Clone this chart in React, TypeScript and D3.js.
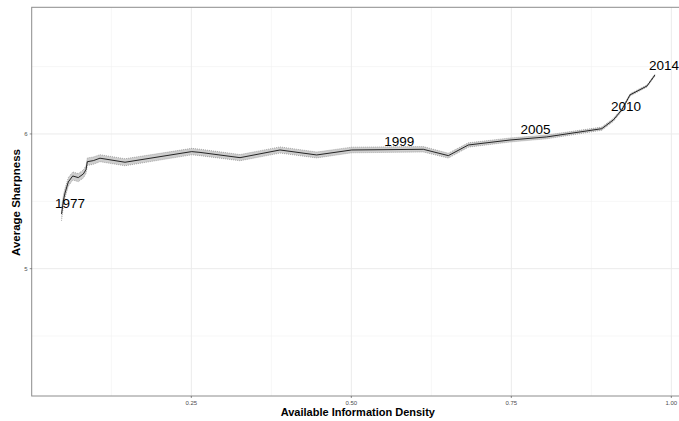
import React from "react";
import * as d3 from "d3";

// Smoothed trajectory of average sharpness against available information density
const density = [
  0.0472, 0.0503, 0.0527, 0.0578, 0.0647, 0.0734, 0.0813, 0.0855, 0.0875, 0.0969,
  0.1073, 0.1464, 0.2506, 0.2636, 0.3261, 0.3886, 0.4459, 0.5006, 0.6125, 0.6516,
  0.6828, 0.748, 0.8053, 0.8913, 0.9094, 0.9225, 0.9355, 0.962, 0.9745,
];
const sharpness = [
  5.406, 5.51, 5.562, 5.644, 5.688, 5.676, 5.703, 5.736, 5.794, 5.802,
  5.82, 5.79, 5.869, 5.863, 5.824, 5.881, 5.844, 5.881, 5.886, 5.839,
  5.918, 5.955, 5.978, 6.039, 6.104, 6.178, 6.29, 6.356, 6.438,
];
// Half-width of the confidence band around the line
const bandHalf = [
  0.05, 0.04, 0.035, 0.032, 0.03, 0.03, 0.03, 0.029, 0.028, 0.027,
  0.026, 0.026, 0.024, 0.024, 0.023, 0.023, 0.022, 0.021, 0.02, 0.018,
  0.016, 0.015, 0.014, 0.012, 0.011, 0.01, 0.009, 0.008, 0.008,
];

// Year annotations along the path
const yearLabels = ["1977", "1999", "2005", "2010", "2014"];
const yearX = [0.0605, 0.5748, 0.7878, 0.9292, 0.9886];
const yearY = [5.489, 5.943, 6.037, 6.203, 6.507];

const xMajor = [0.25, 0.5, 0.75, 1.0];
const xMinor = [0.125, 0.375, 0.625, 0.875];
const yMajor = [5, 6];
const yMinor = [4.5, 5.5, 6.5];

const W = 679;
const H = 421;
const panel = { left: 31.7, top: 7.3, right: 684, bottom: 396 };

const FONT = "'Liberation Sans', Arial, Helvetica, sans-serif";

export default function App() {
  const x = d3.scaleLinear().domain([0.0006, 1.0198]).range([panel.left, panel.right]);
  const y = d3.scaleLinear().domain([4.055, 6.94]).range([panel.bottom, panel.top]);

  const pts = density.map((d, i) => ({ x: d, y: sharpness[i], h: bandHalf[i] }));

  const area = d3
    .area<{ x: number; y: number; h: number }>()
    .x((d) => x(d.x))
    .y0((d) => y(d.y - d.h))
    .y1((d) => y(d.y + d.h));
  const upper = d3
    .line<{ x: number; y: number; h: number }>()
    .x((d) => x(d.x))
    .y((d) => y(d.y + d.h));
  const lower = d3
    .line<{ x: number; y: number; h: number }>()
    .x((d) => x(d.x))
    .y((d) => y(d.y - d.h));
  const mid = d3
    .line<{ x: number; y: number; h: number }>()
    .x((d) => x(d.x))
    .y((d) => y(d.y));

  const panelMidX = (panel.left + panel.right) / 2;

  return (
    <div style={{ position: "fixed", left: 0, top: 0 }}>
      <svg width={W} height={H} style={{ display: "block", background: "#fff" }}>
        <defs>
          <clipPath id="panel-clip">
            <rect x={panel.left} y={panel.top} width={panel.right - panel.left} height={panel.bottom - panel.top} />
          </clipPath>
        </defs>
        <rect x={panel.left} y={panel.top} width={panel.right - panel.left} height={panel.bottom - panel.top} fill="#fff" />
        {/* grid */}
        {xMinor.map((v) => (
          <line key={"xm" + v} x1={x(v)} x2={x(v)} y1={panel.top} y2={panel.bottom} stroke="#f2f2f2" strokeWidth={0.6} />
        ))}
        {yMinor.map((v) => (
          <line key={"ym" + v} x1={panel.left} x2={panel.right} y1={y(v)} y2={y(v)} stroke="#f2f2f2" strokeWidth={0.6} />
        ))}
        {xMajor.map((v) => (
          <line key={"xM" + v} x1={x(v)} x2={x(v)} y1={panel.top} y2={panel.bottom} stroke="#ebebeb" strokeWidth={1} />
        ))}
        {yMajor.map((v) => (
          <line key={"yM" + v} x1={panel.left} x2={panel.right} y1={y(v)} y2={y(v)} stroke="#ebebeb" strokeWidth={1} />
        ))}
        <g clipPath="url(#panel-clip)">
          <path d={area(pts) ?? ""} fill="#bdbdbd" fillOpacity={0.75} />
          <path d={upper(pts) ?? ""} fill="none" stroke="#666" strokeWidth={0.6} strokeDasharray="0.8,1.2" />
          <path d={lower(pts) ?? ""} fill="none" stroke="#666" strokeWidth={0.6} strokeDasharray="0.8,1.2" />
          <path d={mid(pts) ?? ""} fill="none" stroke="#111" strokeWidth={0.9} />
          {yearLabels.map((t, i) => (
            <text
              key={t}
              x={x(yearX[i])}
              y={y(yearY[i])}
              dy="0.36em"
              textAnchor="middle"
              fontFamily={FONT}
              fontSize={13.5}
              fill="#000"
            >
              {t}
            </text>
          ))}
        </g>
        {/* panel border */}
        <rect
          x={panel.left}
          y={panel.top}
          width={panel.right - panel.left}
          height={panel.bottom - panel.top}
          fill="none"
          stroke="#8c8c8c"
          strokeWidth={1}
        />
        {/* axis ticks and labels */}
        {xMajor.map((v) => (
          <g key={"xt" + v}>
            <line x1={x(v)} x2={x(v)} y1={panel.bottom} y2={panel.bottom + 2} stroke="#444" strokeWidth={0.6} />
            <text x={x(v)} y={panel.bottom + 8.5} textAnchor="middle" fontFamily={FONT} fontSize={6} fill="#4d4d4d">
              {d3.format(".2f")(v)}
            </text>
          </g>
        ))}
        {yMajor.map((v) => (
          <g key={"yt" + v}>
            <line x1={panel.left - 2} x2={panel.left} y1={y(v)} y2={y(v)} stroke="#444" strokeWidth={0.6} />
            <text x={panel.left - 4} y={y(v)} dy="0.35em" textAnchor="end" fontFamily={FONT} fontSize={6} fill="#4d4d4d">
              {v}
            </text>
          </g>
        ))}
        <text x={panelMidX} y={416} textAnchor="middle" fontFamily={FONT} fontSize={11} fontWeight="bold" fill="#000">
          Available Information Density
        </text>
        <text
          transform={`translate(19.5,202.5) rotate(-90)`}
          textAnchor="middle"
          fontFamily={FONT}
          fontSize={11.5}
          fontWeight="bold"
          fill="#000"
        >
          Average Sharpness
        </text>
      </svg>
    </div>
  );
}
